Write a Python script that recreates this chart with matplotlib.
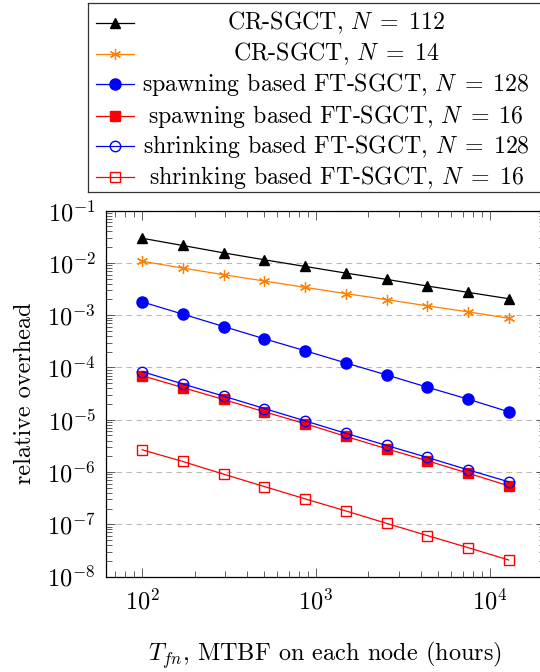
import matplotlib
matplotlib.use("Agg")
import matplotlib.pyplot as plt
from matplotlib.lines import Line2D
from matplotlib.ticker import LogLocator, NullFormatter

plt.rcParams['font.family'] = ['cmr10', 'DejaVu Serif']
plt.rcParams['mathtext.fontset'] = 'cm'
plt.rcParams['axes.formatter.use_mathtext'] = True

# ---- data ----
mtbf = [100, 171, 294, 504, 865, 1483, 2543, 4360, 7476, 12800]
cr_112 = [0.0297, 0.0216, 0.0156, 0.0115, 0.00857, 0.00640, 0.00485, 0.00362, 0.00274, 0.00207]
cr_14 = [0.0108, 0.00798, 0.00596, 0.00451, 0.00341, 0.00259, 0.00199, 0.00151, 0.00116, 0.000877]
spawn_128 = [0.00180, 0.00105, 0.000608, 0.000354, 0.000209, 0.000122, 7.2e-5, 4.19e-5, 2.48e-5, 1.42e-5]
spawn_16 = [6.98e-5, 4.13e-5, 2.44e-5, 1.42e-5, 8.4e-6, 4.8e-6, 2.78e-6, 1.64e-6, 9.5e-7, 5.43e-7]
shrink_128 = [8.34e-5, 4.85e-5, 2.83e-5, 1.64e-5, 9.5e-6, 5.5e-6, 3.22e-6, 1.90e-6, 1.10e-6, 6.49e-7]
shrink_16 = [2.66e-6, 1.59e-6, 9.08e-7, 5.27e-7, 3.06e-7, 1.80e-7, 1.04e-7, 6.07e-8, 3.57e-8, 2.07e-8]

labels = [
    r'CR-SGCT, $N\;=\;112$',
    r'CR-SGCT, $N\;=\;14$',
    r'spawning based FT-SGCT, $N\;=\;128$',
    r'spawning based FT-SGCT, $N\;=\;16$',
    r'shrinking based FT-SGCT, $N\;=\;128$',
    r'shrinking based FT-SGCT, $N\;=\;16$',
]
series = [cr_112, cr_14, spawn_128, spawn_16, shrink_128, shrink_16]

orange = (1.0, 0.5, 0.0)
styles = [
    dict(color='black', marker='^', ms=7.5, mfc='black', mec='black'),
    dict(color=orange, marker=(6, 2, 0), ms=8, mfc=orange, mec=orange, mew=0.9),
    dict(color='blue', marker='o', ms=8, mfc='blue', mec='blue'),
    dict(color='red', marker='s', ms=7, mfc='red', mec='red'),
    dict(color='blue', marker='o', ms=7.5, mfc='none', mec='blue', mew=1.0),
    dict(color='red', marker='s', ms=7, mfc='none', mec='red', mew=1.0),
]

W, H = 540, 672
fig = plt.figure(figsize=(W / 100, H / 100), dpi=100)

# axes in pixel coordinates
axl, axt, axb, axr = 105.5, 210.7, 576.5, 545.3
ax = fig.add_axes([axl / W, 1 - axb / H, (axr - axl) / W, (axb - axt) / H])

for y, st in zip(series, styles):
    ax.plot(mtbf, y, lw=0.9, **st)

ax.set_xscale('log')
ax.set_yscale('log')
ax.set_xlim(10 ** 1.7893, 10 ** 4.3179)
ax.set_ylim(1e-8, 1e-1)

ax.yaxis.set_major_locator(LogLocator(base=10, numticks=20))
ax.yaxis.set_minor_locator(LogLocator(base=10, subs=range(2, 10), numticks=20))
ax.yaxis.set_minor_formatter(NullFormatter())
ax.xaxis.set_minor_formatter(NullFormatter())

ax.grid(True, which='major', axis='y', color='#bbbbbb', ls=(0, (5, 4)), lw=0.8)
ax.set_axisbelow(True)

ax.tick_params(which='both', direction='in', top=True, right=True, width=0.6, color='#444444')
ax.tick_params(which='major', length=6.5, labelsize=17.5)
ax.tick_params(which='minor', length=4.2)
ax.tick_params(axis='y', pad=7)
ax.tick_params(axis='x', pad=9)
for sp in ax.spines.values():
    sp.set_linewidth(0.9)

ax.set_ylabel('relative overhead', fontsize=17.5, labelpad=8)
ax.set_xlabel(r'$T_{fn}$, MTBF on each node (hours)', fontsize=17.5, labelpad=18)

# ---- legend box (pgfplots-like, centred text) ----
ll, lt, lb, lr = 88.3, 3.3, 191.7, 542.0
lax = fig.add_axes([ll / W, 1 - lb / H, (lr - ll) / W, (lb - lt) / H])
lax.set_xlim(ll, lr)
lax.set_ylim(lb, lt)
lax.set_xticks([])
lax.set_yticks([])
for sp in lax.spines.values():
    sp.set_linewidth(0.9)
    sp.set_color('#333333')
row_y = [22.7, 54.0, 84.4, 116.0, 146.3, 177.3]
for yy, lab, st in zip(row_y, labels, styles):
    lax.add_line(Line2D([96.4, 134.3], [yy, yy], lw=0.9, color=st['color']))
    lax.add_line(Line2D([115.4], [yy], lw=0, marker=st['marker'], ms=st['ms'],
                        mfc=st['mfc'], mec=st['mec'], mew=st.get('mew', 1.0)))
    lax.text(336.0, yy, lab, ha='center', va='center', fontsize=17.2)

fig.savefig('out.png', dpi=100)
